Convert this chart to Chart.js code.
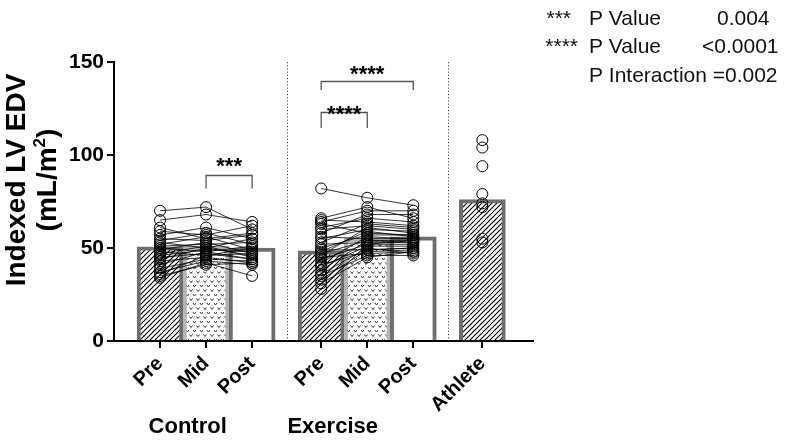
<!DOCTYPE html>
<html><head><meta charset="utf-8">
<script src="https://cdn.jsdelivr.net/npm/chart.js@4"></script>
<style>html,body{margin:0;padding:0;background:#fff}</style>
</head><body>
<canvas id="c" width="800" height="443"></canvas>
<script>
// ---------- data ----------
const categoryPositions = [1, 2, 3, 4.5, 5.5, 6.5, 8];
const categoryLabels = ['Pre', 'Mid', 'Post', 'Pre', 'Mid', 'Post', 'Athlete'];
const groupLabels = ['Control', 'Exercise'];
const groupLabelCenters = [1.6, 4.75];
const barMeans = [50.6, 51, 50, 48.5, 55.3, 56, 76];
const yTicks = [0, 50, 100, 150];
const separators = [3.75, 7.25];

const controlPre  = [70, 65, 61, 59, 57, 55, 54, 53, 52, 51, 50, 49, 48, 47, 46, 45, 44, 43, 41, 39, 37, 36, 34, 35];
const controlMid  = [72, 68, 55, 57, 61, 54, 58, 50, 56, 52, 48, 53, 46, 51, 49, 47, 50, 45, 48, 44, 43, 46, 42, 41];
const controlPost = [60, 64, 58, 62, 55, 57, 52, 55, 49, 53, 51, 47, 50, 45, 48, 44, 46, 42, 44, 43, 41, 47, 35, 42];

const exercisePre  = [82, 66, 65, 64, 63, 61, 60, 58, 56, 55, 53, 52, 50, 49, 48, 47, 46, 45, 44, 42, 41, 40, 38, 36, 35, 33, 31, 28];
const exerciseMid  = [77, 72, 64, 70, 58, 66, 62, 68, 55, 60, 63, 53, 57, 49, 59, 54, 61, 47, 52, 56, 48, 51, 54, 50, 46, 49, 45, 52];
const exercisePost = [73, 66, 62, 70, 57, 64, 60, 68, 55, 59, 61, 53, 57, 50, 56, 54, 58, 48, 52, 55, 49, 51, 53, 47, 46, 50, 48, 54];

const athlete = [108, 104, 94, 79, 74, 72, 55, 53];

const bracketFrom  = [2, 4.5, 4.5];
const bracketTo    = [3, 5.5, 6.5];
const bracketTop   = [89, 123, 140];
const bracketLeg   = [82, 114.5, 135];
const bracketStarY = [97, 125, 146];
const bracketText  = ['***', '****', '****'];

const statStars  = ['***', '****', ''];
const statNames  = ['P Value', 'P Value', 'P Interaction =0.002'];
const statValues = ['0.004', '<0.0001', ''];

// ---------- styles ----------
const FONT = '"Liberation Sans", Arial, Helvetica, sans-serif';
const DARK = '#6e6e6e';
const LIGHT = '#b4b4b4';

function hatchPattern() {
  const c = document.createElement('canvas'); c.width = 5; c.height = 5;
  const g = c.getContext('2d');
  g.fillStyle = '#fff'; g.fillRect(0, 0, 5, 5);
  g.strokeStyle = '#000'; g.lineWidth = 1.1;
  g.beginPath();
  g.moveTo(0, 5); g.lineTo(5, 0);
  g.moveTo(-1, 1); g.lineTo(1, -1);
  g.moveTo(4, 6); g.lineTo(6, 4);
  g.stroke();
  return g.createPattern(c, 'repeat');
}
function vPattern() {
  const c = document.createElement('canvas'); c.width = 7; c.height = 9;
  const g = c.getContext('2d');
  g.fillStyle = '#fff'; g.fillRect(0, 0, 7, 9);
  g.strokeStyle = '#333'; g.lineWidth = 1;
  const v = (x, y) => { g.beginPath(); g.moveTo(x - 1.5, y - 1); g.lineTo(x, y + 1); g.lineTo(x + 1.5, y - 1); g.stroke(); };
  v(2, 2.5); v(5.5, 7);
  return g.createPattern(c, 'repeat');
}
const hatch = hatchPattern();
const vpat = vPattern();

const fills = [hatch, vpat, '#ffffff', hatch, vpat, '#ffffff', hatch];
const borders = [DARK, LIGHT, DARK, DARK, LIGHT, DARK, DARK];

const pointStyle = {
  type: 'line', borderColor: '#000', borderWidth: 0.8, fill: false, tension: 0,
  pointRadius: 5.5, pointBorderWidth: 1, pointBorderColor: '#000',
  pointBackgroundColor: 'rgba(255,255,255,0)', order: 0
};

const datasets = [{
  type: 'bar',
  data: categoryPositions.map((x, i) => ({ x, y: barMeans[i] })),
  backgroundColor: fills, borderColor: borders, borderWidth: 4,
  borderSkipped: 'start', categoryPercentage: 1, barPercentage: 1, order: 5
}];
controlPre.forEach((v, i) => datasets.push(Object.assign({}, pointStyle, {
  data: [{ x: categoryPositions[0], y: v }, { x: categoryPositions[1], y: controlMid[i] }, { x: categoryPositions[2], y: controlPost[i] }]
})));
exercisePre.forEach((v, i) => datasets.push(Object.assign({}, pointStyle, {
  data: [{ x: categoryPositions[3], y: v }, { x: categoryPositions[4], y: exerciseMid[i] }, { x: categoryPositions[5], y: exercisePost[i] }]
})));
datasets.push(Object.assign({}, pointStyle, { showLine: false, data: athlete.map(v => ({ x: categoryPositions[6], y: v })) }));

const overlay = {
  id: 'overlay',
  beforeDatasetsDraw(chart) {
    const { ctx, chartArea: a, scales: { x } } = chart;
    ctx.save();
    ctx.strokeStyle = '#444'; ctx.lineWidth = 1; ctx.setLineDash([1.2, 2]);
    separators.forEach(v => {
      const px = Math.round(x.getPixelForValue(v)) + 0.5;
      ctx.beginPath(); ctx.moveTo(px, a.top); ctx.lineTo(px, a.bottom); ctx.stroke();
    });
    ctx.restore();
  },
  afterDraw(chart) {
    const { ctx, chartArea: a, scales: { x, y } } = chart;
    ctx.save();
    // brackets
    ctx.strokeStyle = '#555'; ctx.lineWidth = 1.3;
    ctx.fillStyle = '#000'; ctx.font = 'bold 22px ' + FONT;
    ctx.textAlign = 'center'; ctx.textBaseline = 'alphabetic';
    bracketFrom.forEach((f, i) => {
      const x1 = x.getPixelForValue(f), x2 = x.getPixelForValue(bracketTo[i]);
      const yt = Math.round(y.getPixelForValue(bracketTop[i])) + 0.5, yl = y.getPixelForValue(bracketLeg[i]);
      ctx.beginPath(); ctx.moveTo(x1, yl); ctx.lineTo(x1, yt); ctx.lineTo(x2, yt); ctx.lineTo(x2, yl); ctx.stroke();
      ctx.fillText(bracketText[i], (x1 + x2) / 2, y.getPixelForValue(bracketStarY[i]) + 12);
    });
    // group labels
    ctx.font = 'bold 22px ' + FONT; ctx.textAlign = 'center'; ctx.textBaseline = 'middle';
    groupLabels.forEach((t, i) => ctx.fillText(t, x.getPixelForValue(groupLabelCenters[i]), 427));
    // y title
    ctx.save();
    ctx.translate(0, 180); ctx.rotate(-Math.PI / 2);
    ctx.font = 'bold 28px ' + FONT; ctx.textAlign = 'center'; ctx.textBaseline = 'middle';
    ctx.fillText('Indexed LV EDV', 0, 17);
    const p1 = '(mL/m', p2 = '2', p3 = ')';
    ctx.font = 'bold 28px ' + FONT;
    const w1 = ctx.measureText(p1).width, w3 = ctx.measureText(p3).width;
    ctx.font = 'bold 17px ' + FONT;
    const w2 = ctx.measureText(p2).width;
    let sx = -(w1 + w2 + w3) / 2;
    ctx.textAlign = 'left';
    ctx.font = 'bold 28px ' + FONT; ctx.fillText(p1, sx, 48); sx += w1;
    ctx.font = 'bold 17px ' + FONT; ctx.fillText(p2, sx, 40); sx += w2;
    ctx.font = 'bold 28px ' + FONT; ctx.fillText(p3, sx, 48);
    ctx.restore();
    // stats text
    ctx.font = '21px ' + FONT; ctx.fillStyle = '#111'; ctx.textBaseline = 'alphabetic';
    const rows = [25, 53, 82];
    const starRight = [571, 578, 578];
    const valueLeft = [717, 702, 702];
    rows.forEach((ry, i) => {
      ctx.textAlign = 'right'; ctx.fillText(statStars[i], starRight[i], ry);
      ctx.textAlign = 'left'; ctx.fillText(statNames[i], 589, ry);
      ctx.fillText(statValues[i], valueLeft[i], ry);
    });
    ctx.restore();
  }
};

const axisGrid = { display: true, drawOnChartArea: false, drawTicks: true, tickLength: 7, color: '#000', lineWidth: 2, offset: false };
const axisBorder = { display: true, color: '#000', width: 2 };

new Chart(document.getElementById('c'), {
  type: 'bar',
  data: { datasets },
  options: {
    responsive: false, animation: false, parsing: true,
    layout: { padding: { left: 0, top: 62, right: 267, bottom: 0 } },
    plugins: { legend: { display: false }, tooltip: { enabled: false } },
    scales: {
      x: {
        type: 'linear', min: 0, max: 9.1, offset: false,
        afterBuildTicks: ax => { ax.ticks = categoryPositions.map(v => ({ value: v })); },
        afterFit: ax => { ax.height = 102; },
        ticks: { autoSkip: false, minRotation: 45, maxRotation: 45, padding: 4, color: '#000',
          font: { family: FONT, size: 20, weight: 'bold' }, callback: (v, i) => categoryLabels[i] },
        grid: axisGrid, border: axisBorder
      },
      y: {
        min: 0, max: 150,
        afterBuildTicks: ax => { ax.ticks = yTicks.map(v => ({ value: v })); },
        afterFit: ax => { ax.width = 114; },
        ticks: { padding: 3, color: '#000', font: { family: FONT, size: 21, weight: 'bold' } },
        grid: axisGrid, border: axisBorder
      }
    }
  },
  plugins: [overlay]
});
</script>
</body></html>
